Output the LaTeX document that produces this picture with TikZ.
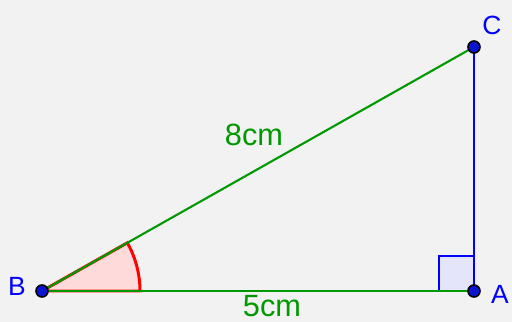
\documentclass[tikz,border=0pt]{standalone}
\usepackage{fontspec}
\setmainfont{Liberation Sans}
\usepackage{xcolor}
\usepackage{tikz}
\usetikzlibrary{positioning}
\definecolor{geogreen}{RGB}{0, 153, 0}
\definecolor{geoblue}{RGB}{0, 0, 255}
\definecolor{pointblue}{RGB}{10, 20, 210}
\definecolor{anglepink}{RGB}{255, 218, 218}
\definecolor{squarefill}{RGB}{228, 228, 250}
\definecolor{paper}{RGB}{242, 242, 242}

\begin{document}
\begin{tikzpicture}[
    x=0.02cm, y=0.02cm,
    side/.style={line width=1.2pt, color=geogreen},
    upright/.style={line width=1.2pt, color=geoblue},
    pt/.style={circle, draw=black, fill=pointblue, line width=0.9pt,
               inner sep=0pt, minimum size=0.24cm},
    vname/.style={font=\fontsize{15}{15}\selectfont, color=geoblue, inner sep=0pt},
    length/.style={font=\fontsize{17.5}{17.5}\selectfont, color=geogreen, inner sep=0pt}
]
    % Paper
    \fill[paper] (0,0) rectangle (512,322);
    \useasboundingbox (0,0) rectangle (512,322);

    % Vertices
    \coordinate (B) at (42,31);
    \coordinate (A) at (474,31);
    \coordinate (C) at (474,275);

    % Angle at B
    \draw[red, line width=1.7pt, fill=anglepink] (B) -- ++(0:98)
        arc[start angle=0, end angle=29.46, radius=98] -- cycle;

    % Right angle at A
    \draw[geoblue, line width=1pt, fill=squarefill] (A) rectangle ++(-35,35);

    % Sides
    \draw[side] (B) -- (A);
    \draw[side] (B) -- (C);
    \draw[upright] (A) -- (C);

    % Points
    \node[pt] (Bdot) at (B) {};
    \node[pt] (Adot) at (A) {};
    \node[pt] (Cdot) at (C) {};

    % Labels
    \node[vname] (Blabel) at (17,36) {B};
    \node[vname] (Alabel) at (500,28) {A};
    \node[vname] (Clabel) at (492,297) {C};
    \node[length] (hyp) at (254,187) {8cm};
    \node[length] (base) at (272,16) {5cm};
\end{tikzpicture}
\end{document}
